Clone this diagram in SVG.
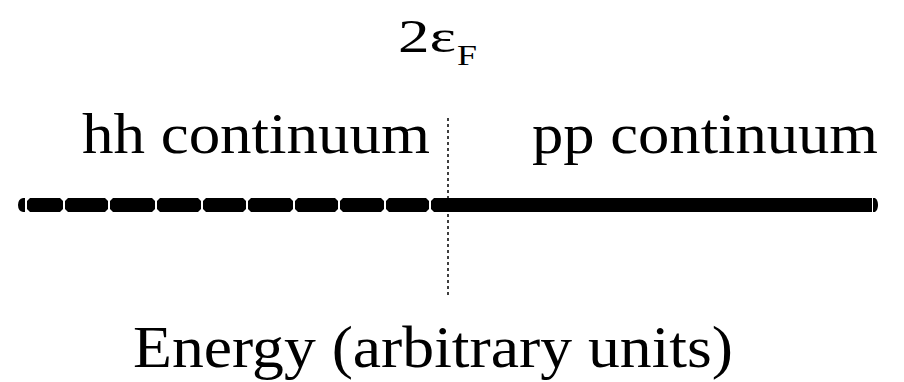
<svg xmlns="http://www.w3.org/2000/svg" width="904" height="382" viewBox="0 0 904 382">
<style>
.t{font-family:"Liberation Serif","Times New Roman",serif;fill:#000}
.seg{fill:#000}
.div{stroke:#000;stroke-width:1.5;stroke-dasharray:3 3;fill:none}
</style>
<rect width="904" height="382" fill="#fff"/>
<g id="label-2eF">
<text class="t" x="398" y="52" font-size="46" textLength="58" lengthAdjust="spacingAndGlyphs">2ε</text>
<text class="t" x="457" y="65" font-size="30" textLength="20" lengthAdjust="spacingAndGlyphs">F</text>
</g>
<g id="label-hh">
<text class="t" x="82" y="153" font-size="58" textLength="348" lengthAdjust="spacingAndGlyphs">hh continuum</text>
</g>
<g id="label-pp">
<text class="t" x="532" y="153" font-size="58" textLength="346" lengthAdjust="spacingAndGlyphs">pp continuum</text>
</g>
<g id="connectors">
<g id="energy-axis">
<path class="seg" d="M25,198 L23,198 Q18,199 18,205 Q18,211 23,212 L25,212 Z"/>
<path class="seg" d="M27,201 L30,198 L60,198 L63,201 L63,209 L60,212 L30,212 L27,209 Z"/>
<path class="seg" d="M65,201 L68,198 L105,198 L108,201 L108,209 L105,212 L68,212 L65,209 Z"/>
<path class="seg" d="M110,201 L113,198 L152,198 L155,201 L155,209 L152,212 L113,212 L110,209 Z"/>
<path class="seg" d="M157,201 L160,198 L198,198 L201,201 L201,209 L198,212 L160,212 L157,209 Z"/>
<path class="seg" d="M203,201 L206,198 L243,198 L246,201 L246,209 L243,212 L206,212 L203,209 Z"/>
<path class="seg" d="M248,201 L251,198 L290,198 L293,201 L293,209 L290,212 L251,212 L248,209 Z"/>
<path class="seg" d="M295,201 L298,198 L335,198 L338,201 L338,209 L335,212 L298,212 L295,209 Z"/>
<path class="seg" d="M340,201 L343,198 L381,198 L384,201 L384,209 L381,212 L343,212 L340,209 Z"/>
<path class="seg" d="M386,201 L389,198 L426,198 L429,201 L429,209 L426,212 L389,212 L386,209 Z"/>
<path class="seg" d="M431,201 L434,198 L872,198 L872,212 L434,212 L431,209 Z"/>
<path class="seg" d="M873,198 L875,198 Q878,200 878,205 Q878,210 875,212 L873,212 Z"/>
</g>
<line id="fermi-divider" class="div" x1="448" y1="118" x2="448" y2="297"/>
</g>
<g id="label-energy">
<text class="t" x="133" y="367" font-size="60" textLength="600" lengthAdjust="spacingAndGlyphs">Energy (arbitrary units)</text>
</g>
</svg>
